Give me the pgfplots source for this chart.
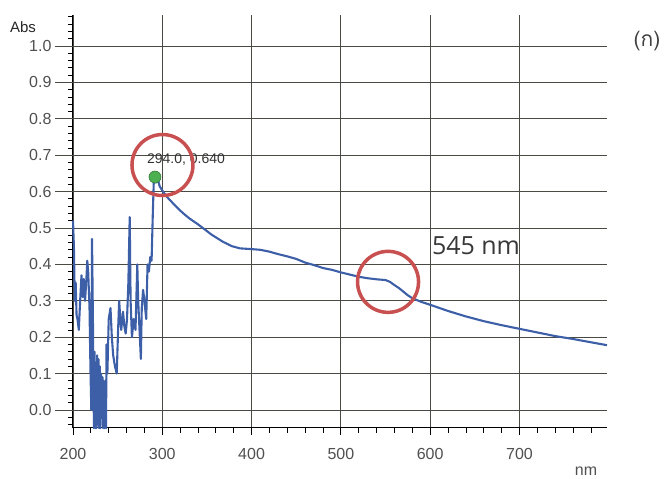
\documentclass[border=0pt]{standalone}
\usepackage{pgfplots}
\pgfplotsset{compat=1.18}
\usepackage{fontspec}
\setmainfont{Liberation Sans}
\newfontfamily\opensans{Open Sans}
\newfontfamily\thaifont[Script=Thai]{Loma}
\definecolor{specblue}{HTML}{3D5FA8}
\definecolor{circred}{HTML}{C85050}
\definecolor{gridc}{HTML}{4A4A44}
\definecolor{dotgreen}{HTML}{4CB050}
\definecolor{labgray}{HTML}{505050}
\begin{document}
\begin{tikzpicture}
\begin{axis}[
  scale only axis, width=534pt, height=413pt,
  xmin=200, xmax=798, ymin=-0.0495, ymax=1.0852,
  axis x line*=bottom, axis y line*=left,
  axis line style={black, line width=1pt},
  xtick={200,300,400,500,600,700},
  xticklabels={200,300,400,500,600,700},
  ytick={0,0.1,0.2,0.3,0.4,0.5,0.6,0.7,0.8,0.9,1.0},
  yticklabels={0.0,0.1,0.2,0.3,0.4,0.5,0.6,0.7,0.8,0.9,1.0},
  minor xtick={220,240,...,780},
  minor ytick={-0.04,-0.02,0.02,0.04,0.06,0.08,0.12,0.14,0.16,0.18,0.22,0.24,0.26,0.28,0.32,0.34,0.36,0.38,0.42,0.44,0.46,0.48,0.52,0.54,0.56,0.58,0.62,0.64,0.66,0.68,0.72,0.74,0.76,0.78,0.82,0.84,0.86,0.88,0.92,0.94,0.96,0.98,1.02,1.04,1.06,1.08},
  tick align=outside,
  major tick length=7pt, minor tick length=5pt,
  tick style={black, line width=0.8pt},
  grid=major,
  major grid style={gridc, line width=0.9pt},
  tick label style={font=\fontsize{16}{18}\selectfont, text=labgray},
  xticklabel style={yshift=-9.5pt},
  yticklabel style={xshift=-11pt},
  clip=false,
]
\pgfplotsinvokeforeach{0,0.1,0.2,0.3,0.4,0.5,0.6,0.7,0.8,0.9,1.0}{
  \draw[gridc, line width=0.9pt] (axis cs:200,#1) -- ++(-18pt,0pt);
}
\addplot[specblue, line width=2.1pt, line join=round] coordinates {
(200,0.52) (201,0.45) (202,0.30) (203,0.35) (204,0.26) (205,0.25) (206.5,0.22) (208,0.30) (209.5,0.37)
(211,0.31) (212,0.36) (213.5,0.30) (215,0.36) (216,0.41) (217,0.38) (218.5,0.28)
(219.5,0.12) (220.5,0.0) (221.3,0.47) (222.3,0.25) (223,0.05) (223.5,-0.05) (224.2,0.16)
(225,-0.05) (225.6,0.12) (226.3,-0.05) (227,0.15) (227.8,0.02) (228.5,0.14) (229.2,-0.05)
(230,0.12) (230.7,-0.05) (231.5,0.10) (232.3,0.0) (233,0.09) (233.8,-0.05) (234.6,0.08)
(235.4,-0.05) (236.2,0.06) (237,-0.05) (237.5,0.18) (238.5,0.10) (240,0.25) (242,0.28) (243.5,0.20)
(245,0.15) (247,0.12) (249,0.10) (250.5,0.22) (251.7,0.30) (253,0.25) (254,0.22)
(256,0.27) (257.5,0.23) (259,0.21) (260.5,0.25) (262,0.35) (263.5,0.53) (264.5,0.30)
(266,0.20) (268,0.25) (270,0.22) (272,0.40) (273,0.30) (274.5,0.22) (276,0.14)
(277,0.28) (278.5,0.33) (280,0.30) (282,0.25) (283.5,0.40) (285,0.38) (286.5,0.42)
(288,0.41) (289.5,0.55) (290.5,0.63) (291.8,0.645) (293,0.625) (294.5,0.638)
(297,0.615) (300,0.603) (305,0.586) (310,0.573) (315,0.56) (320,0.548) (325,0.537)
(330,0.527) (340,0.51) (346,0.499) (355,0.482) (368,0.462) (378,0.45) (387,0.444)
(400,0.442) (410,0.44) (420,0.435) (430,0.428) (440,0.422) (450,0.415) (460,0.405)
(470,0.398) (480,0.39) (490,0.385) (500,0.378) (510,0.372) (520,0.366) (530,0.362)
(540,0.359) (550,0.357) (555,0.352) (560,0.343) (565,0.335) (570,0.325) (575,0.315)
(580,0.307) (590,0.297) (600,0.289) (620,0.272) (640,0.257) (660,0.244) (680,0.233)
(700,0.223) (720,0.213) (740,0.203) (760,0.195) (780,0.186) (798,0.178)
};
\addplot[only marks, mark=o, mark size=30.5pt, circred, mark options={line width=3.5pt}]
  coordinates {(300.2,0.673) (552.8,0.352)};
\addplot[only marks, mark=*, mark size=6pt, mark options={fill=dotgreen, draw=dotgreen!70!black, line width=0.6pt}]
  coordinates {(291.8,0.640)};
\node[font=\fontsize{14}{16}\selectfont, text=black!80] at (axis cs:326.5,0.687) {294.0, 0.640};
\node[font=\opensans\fontsize{25}{28}\selectfont, text=black!78] at (axis cs:651.3,0.4505) {545 nm};
\node[font=\thaifont\fontsize{21}{24}\selectfont, text=black!75] at (axis cs:842.8,1.014) {(ก)};
\node[font=\fontsize{15}{17}\selectfont, text=black!85] at (axis cs:144,1.052) {Abs};
\node[font=\fontsize{16}{18}\selectfont, text=labgray, inner sep=0pt] at (axis cs:774.5,-0.168) {nm};
\coordinate (O) at (rel axis cs:0,0);
\end{axis}
\pgfresetboundingbox
\path (O) ++(-73pt,-51pt) rectangle ++(670pt,479pt);
\end{tikzpicture}
\end{document}
